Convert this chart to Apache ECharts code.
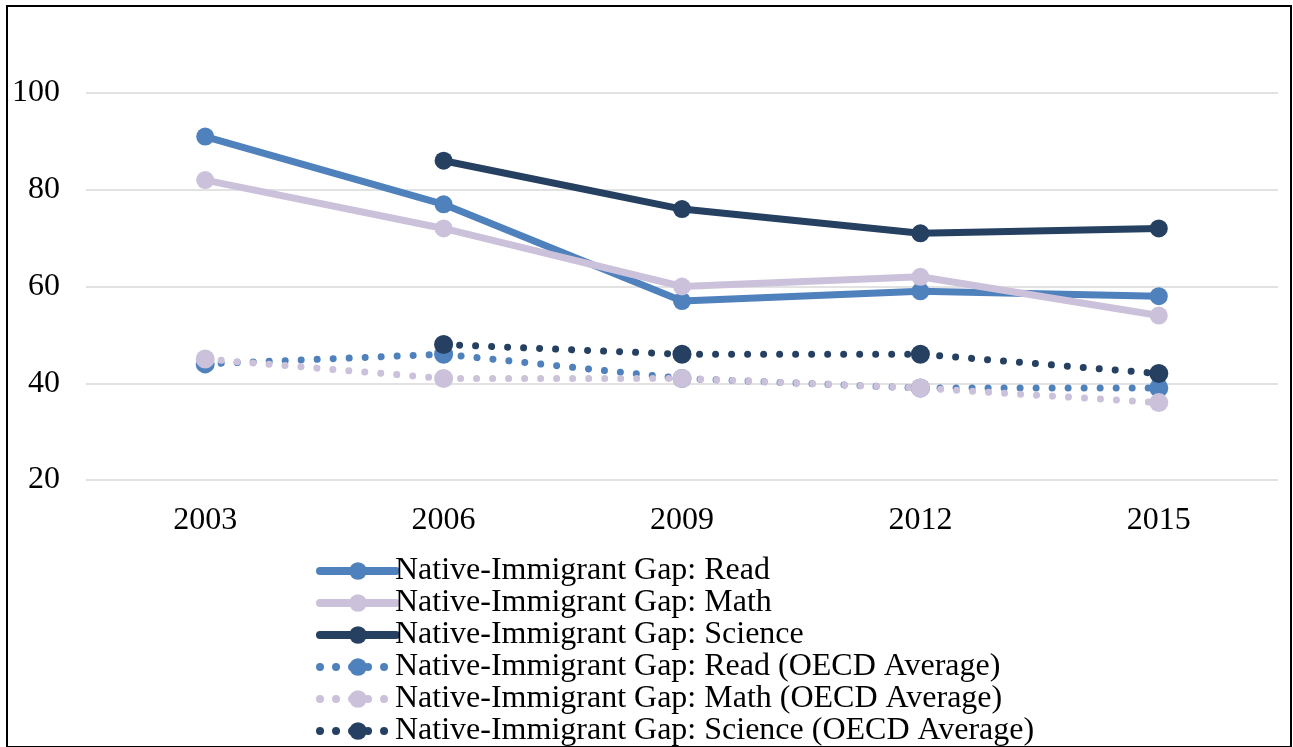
<!DOCTYPE html>
<html>
<head>
<meta charset="utf-8">
<script src="https://cdn.jsdelivr.net/npm/echarts@6/dist/echarts.min.js"></script>
<style>
html,body{margin:0;padding:0;background:#fff;}
#chart{width:1293px;height:747px;}
</style>
</head>
<body>
<div id="chart"></div>
<script>
const years = ['2003','2006','2009','2012','2015'];
const readGap = [91, 77, 57, 59, 58];
const mathGap = [82, 72, 60, 62, 54];
const scienceGap = [null, 86, 76, 71, 72];
const readOECD = [44, 46, 41, 39, 39];
const mathOECD = [45, 41, 41, 39, 36];
const scienceOECD = [null, 48, 46, 46, 42];
const seriesNames = [
  'Native-Immigrant Gap: Read',
  'Native-Immigrant Gap: Math',
  'Native-Immigrant Gap: Science',
  'Native-Immigrant Gap: Read (OECD Average)',
  'Native-Immigrant Gap: Math (OECD Average)',
  'Native-Immigrant Gap: Science (OECD Average)'
];
const colors = ['#4F81BD', '#CCC1DA', '#254061'];

const font = 'Liberation Serif';

function solid(name, data, color) {
  return {
    name, type: 'line', data, connectNulls: false,
    symbol: 'circle', symbolSize: 18, showAllSymbol: true,
    itemStyle: { color },
    lineStyle: { color, width: 7 },
    emphasis: { disabled: true }
  };
}
function dotted(name, data, color) {
  return {
    name, type: 'line', data,
    symbol: 'circle', symbolSize: 19, showAllSymbol: true,
    itemStyle: { color },
    lineStyle: { color, width: 7, type: [0.01, 16], cap: 'round' },
    emphasis: { disabled: true }
  };
}

const chart = echarts.init(document.getElementById('chart'), null, { renderer: 'canvas' });
chart.setOption({
  animation: false,
  backgroundColor: '#fff',
  grid: { left: 86, right: 15, top: 93, bottom: 267, containLabel: false },
  xAxis: {
    type: 'category', data: years, boundaryGap: true,
    axisLine: { show: false }, axisTick: { show: false },
    axisLabel: { color: '#000', fontFamily: font, fontSize: 32, margin: 25 }
  },
  yAxis: {
    type: 'value', min: 20, max: 100, interval: 20,
    axisLine: { show: false }, axisTick: { show: false },
    axisLabel: { color: '#000', fontFamily: font, fontSize: 32, margin: 26 },
    splitLine: { lineStyle: { color: '#d9d9d9', width: 1.5 } }
  },
  legend: {
    orient: 'vertical', left: 316, top: 555, height: 200, padding: 0,
    itemWidth: 76, itemHeight: 22, itemGap: 0,
    lineStyle: { width: 8, cap: 'round' },
    textStyle: { color: '#000', fontFamily: font, fontSize: 32, lineHeight: 32, padding: [0,0,0,-6] },
    data: seriesNames
  },
  graphic: [{
    type: 'rect', silent: true,
    shape: { x: 7, y: 6, width: 1284, height: 741 },
    style: { fill: 'none', stroke: '#000', lineWidth: 2 }
  }],
  series: [
    solid(seriesNames[0], readGap, colors[0]),
    solid(seriesNames[1], mathGap, colors[1]),
    solid(seriesNames[2], scienceGap, colors[2]),
    dotted(seriesNames[3], readOECD, colors[0]),
    dotted(seriesNames[4], mathOECD, colors[1]),
    dotted(seriesNames[5], scienceOECD, colors[2])
  ]
});
</script>
</body>
</html>
